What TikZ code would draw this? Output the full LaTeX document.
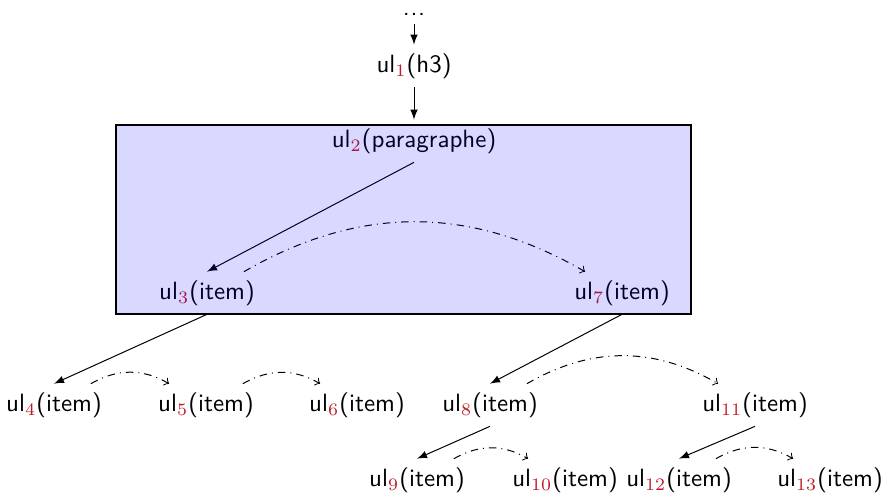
\documentclass[tikz,border=0pt]{standalone}
\usetikzlibrary{calc}
\definecolor{subred}{rgb}{0.75,0.1,0.15}
\newcommand{\ulsub}[1]{ul$_{\textcolor{subred}{#1}}$}
\begin{document}
\begin{tikzpicture}[x=0.4pt,y=-0.4pt,
  every node/.style={font=\sffamily},
  item/.style={inner sep=3.333pt},
  tree/.style={-latex},
  sib/.style={->,dash dot,bend left=30}]
\useasboundingbox (0,0) rectangle (884,493);
\node[anchor=base] (dots) at (414,15) {.\kern0.3pt.\kern0.3pt.};
\node[item] (u1) at (414,66) {\ulsub{1}(h3)};
\node[item] (u2) at (414,141) {\ulsub{2}(paragraphe)};
\node[item] (u3) at (207,293) {\ulsub{3}(item)};
\node[item] (u7) at (622,293) {\ulsub{7}(item)};
\node[item] (u4) at (54,405) {\ulsub{4}(item)};
\node[item] (u5) at (206,405) {\ulsub{5}(item)};
\node[item] (u6) at (357,405) {\ulsub{6}(item)};
\node[item] (u8) at (490,405) {\ulsub{8}(item)};
\node[item] (u11) at (755,405) {\ulsub{11}(item)};
\node[item] (u9) at (417,480) {\ulsub{9}(item)};
\node[item] (u10) at (565,480) {\ulsub{10}(item)};
\node[item] (u12) at (679,480) {\ulsub{12}(item)};
\node[item] (u13) at (830,480) {\ulsub{13}(item)};
\draw[tree] (dots.south) -- (u1.north);
\draw[tree] (u1.south) -- (u2.north);
\draw[tree] (u2.south) -- (u3.north);
\draw[sib] (u3.30) to (u7.150);
\draw[tree] (u3.south) -- (u4.north);
\draw[tree] (u7.south) -- (u8.north);
\draw[sib] (u4.30) to (u5.150);
\draw[sib] (u5.30) to (u6.150);
\draw[sib] (u8.30) to (u11.150);
\draw[tree] (u8.south) -- (u9.north);
\draw[tree] (u11.south) -- (u12.north);
\draw[sib] (u9.30) to (u10.150);
\draw[sib] (u12.30) to (u13.150);
\draw[thick, fill=blue, fill opacity=0.15, draw opacity=1] (116,125) rectangle (691,314);
\end{tikzpicture}
\end{document}
